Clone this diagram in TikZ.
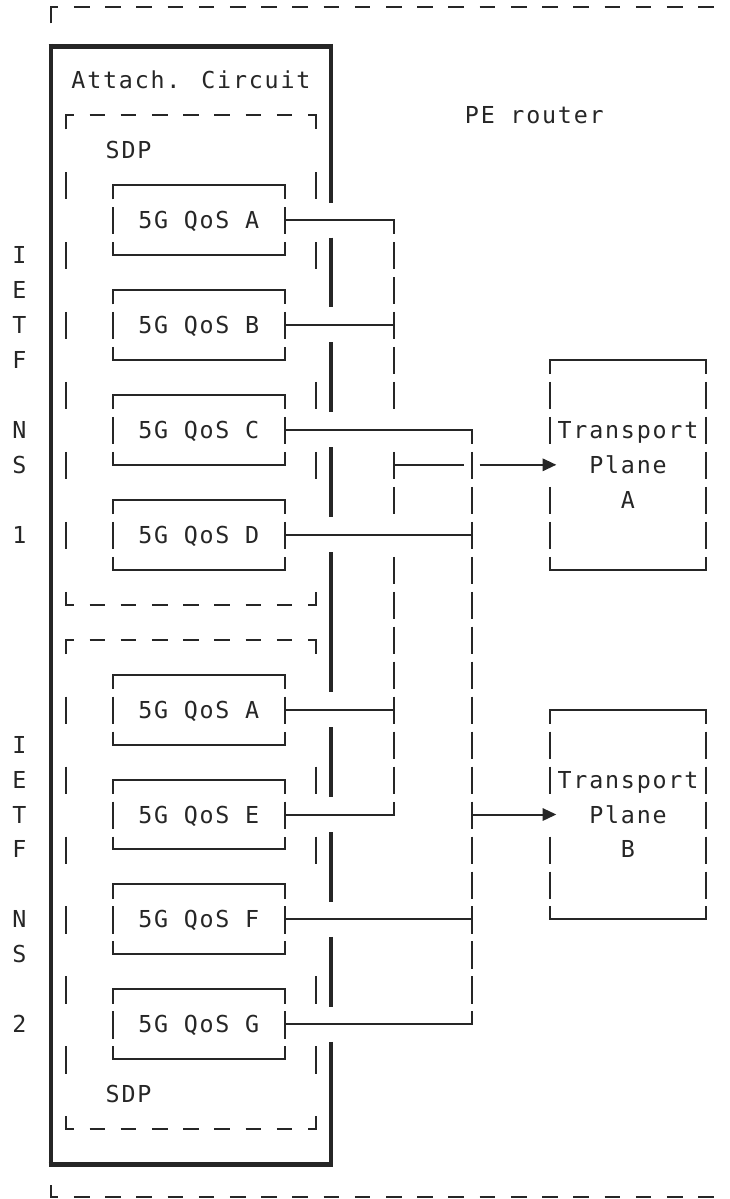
\documentclass[tikz,border=0pt]{standalone}
\usepackage{fontspec}
\usetikzlibrary{arrows.meta}
\newfontfamily\monoft[LetterSpace=7.65]{DejaVu Sans Mono}
\definecolor{ink}{HTML}{262626}
\newcommand{\glyphbar}[2]{\draw[ln] (#1,#2-0.37) -- (#1,#2+0.41);}
\newcommand{\qosbox}[3]{%
  \node[qbox] (#1) at (12.5,#2) {#3};
  \draw[ln] (7,#2-0.59) -- (7,#2-1) -- (18,#2-1) -- (18,#2-0.59);
  \draw[ln] (7,#2+0.63) -- (7,#2+1) -- (18,#2+1) -- (18,#2+0.63);
  \glyphbar{7}{#2}\glyphbar{18}{#2}}
\begin{document}
\begin{tikzpicture}[x=11.70525pt, y=-26.2275pt,
  ln/.style={draw=ink, line width=1.5pt},
  thkv/.style={draw=ink, line width=3pt},
  thkh/.style={draw=ink, line width=4pt},
  txt/.style={font={\monoft\fontsize{17.5pt}{20pt}\selectfont\spaceskip=11.705pt\relax}, text=ink, inner sep=0pt, text height=12.75pt, text depth=0pt},
  qbox/.style={txt, minimum width=128.758pt, minimum height=52.455pt},
  tbox/.style={inner sep=0pt, minimum width=117.05pt, minimum height=157.365pt},
  headtri/.style={-{Triangle[length=10.3pt,width=9.3pt]}}
]
\useasboundingbox (-0.2364,-0.2917) rectangle (46.474,33.995);
\fill[white] (-0.2364,-0.2917) rectangle (46.474,33.995);

% ---------- PE router (dashed, open to the right) ----------
\coordinate (peTL) at (3,-0.08);
\coordinate (peBL) at (3,33.95);
\draw[ln] (3,0.375) -- (peTL) -- (3.5,-0.08);
\draw[ln] (3,33.6) -- (peBL) -- (3.5,33.95);
\foreach \k in {5,7,...,45} {
  \draw[ln] (\k-0.5,-0.08) -- (\k+0.5,-0.08);
  \draw[ln] (\k-0.5,33.95) -- (\k+0.5,33.95);
}
\node[txt] (pe) at (34,3) {PE router};

% ---------- Attachment circuit (thick) ----------
\draw[thkh] (2.872,1.04) -- (21.128,1.04);
\draw[thkh] (2.872,33) -- (21.128,33);
\draw[thkv] (3,0.964) -- (3,33.076);
\foreach \ta/\tb in {0.964/5.5, 6.5/8.5, 9.5/11.5, 12.5/14.5, 15.5/19.5, 20.5/22.5, 23.5/25.5, 26.5/28.5, 29.5/33.076}
  \draw[thkv] (21,\ta) -- (21,\tb);
\node[txt] (ac) at (12,2) {Attach. Circuit};

% ---------- SDP dashed boxes ----------
\foreach \tp/\bt in {3/17, 18/32} {
  \draw[ln] (4,\tp+0.41) -- (4,\tp) -- (4.5,\tp);
  \draw[ln] (19.5,\tp) -- (20,\tp) -- (20,\tp+0.41);
  \draw[ln] (4,\bt-0.37) -- (4,\bt) -- (4.5,\bt);
  \draw[ln] (19.5,\bt) -- (20,\bt) -- (20,\bt-0.37);
  \foreach \k in {6,8,...,18} {
    \draw[ln] (\k-0.5,\tp) -- (\k+0.5,\tp);
    \draw[ln] (\k-0.5,\bt) -- (\k+0.5,\bt);
  }
}
\foreach \rr in {5,7,9,11,13,15} {\glyphbar{4}{\rr}}
\foreach \rr in {5,7,11,13} {\glyphbar{20}{\rr}}
\foreach \rr in {20,22,24,26,28,30} {\glyphbar{4}{\rr}}
\foreach \rr in {22,24,28,30} {\glyphbar{20}{\rr}}
\node[txt] (sdp1) at (8,4) {SDP};
\node[txt] (sdp2) at (8,31) {SDP};

% ---------- IETF NS labels ----------
\foreach \ch/\rr in {I/7,E/8,T/9,F/10,N/12,S/13,1/15}
  \node[txt] (nsa\rr) at (1,\rr) {\ch};
\foreach \ch/\rr in {I/21,E/22,T/23,F/24,N/26,S/27,2/29}
  \node[txt] (nsb\rr) at (1,\rr) {\ch};

% ---------- 5G QoS boxes ----------
\qosbox{qa1}{6}{5G QoS A}
\qosbox{qb1}{9}{5G QoS B}
\qosbox{qc1}{12}{5G QoS C}
\qosbox{qd1}{15}{5G QoS D}
\qosbox{qa2}{20}{5G QoS A}
\qosbox{qe2}{23}{5G QoS E}
\qosbox{qf2}{26}{5G QoS F}
\qosbox{qg2}{29}{5G QoS G}

% ---------- Transport planes ----------
\foreach \nm/\c/\lab in {tpa/13/A, tpb/23/B} {
  \node[tbox] (\nm) at (40,\c) {};
  \draw[ln] (35,\c-2.59) -- (35,\c-3) -- (45,\c-3) -- (45,\c-2.59);
  \draw[ln] (35,\c+2.63) -- (35,\c+3) -- (45,\c+3) -- (45,\c+2.63);
  \foreach \dd in {-2,-1,1,2} {\glyphbar{35}{\c+\dd}}
  \foreach \dd in {-2,-1,0,1,2} {\glyphbar{45}{\c+\dd}}
  \node[txt] (\nm t) at (40,\c-1) {Transport};
  \node[txt] (\nm p) at (40,\c) {Plane};
  \node[txt] (\nm l) at (40,\c+1) {\lab};
}

% ---------- buses ----------
\coordinate (busA) at (25,6);
\coordinate (busB) at (30,12);
\draw[ln] (qa1.east) -- (busA) -- (25,6.41);
\draw[ln] (qb1.east) -- (25,9);
\draw[ln] (qa2.east) -- (25,20);
\draw[ln] (qe2.east) -- (25,23) -- (25,22.63);
\foreach \rr in {7,8,9,10,11,13,14,16,17,18,19,20,21,22} {\glyphbar{25}{\rr}}
\draw[ln] (qc1.east) -- (busB) -- (30,12.41);
\draw[ln] (qd1.east) -- (30,15);
\draw[ln] (qf2.east) -- (30,26);
\draw[ln] (qg2.east) -- (30,29) -- (30,28.63);
\foreach \rr in {13,14,...,28} {\glyphbar{30}{\rr}}

% ---------- arrows to transport planes ----------
\draw[ln] (25,13) -- (29.5,13);
\draw[ln,headtri] (30.5,13) -- ([xshift=5pt]tpa.west);
\draw[ln,headtri] (30,23) -- ([xshift=5pt]tpb.west);
\end{tikzpicture}
\end{document}
